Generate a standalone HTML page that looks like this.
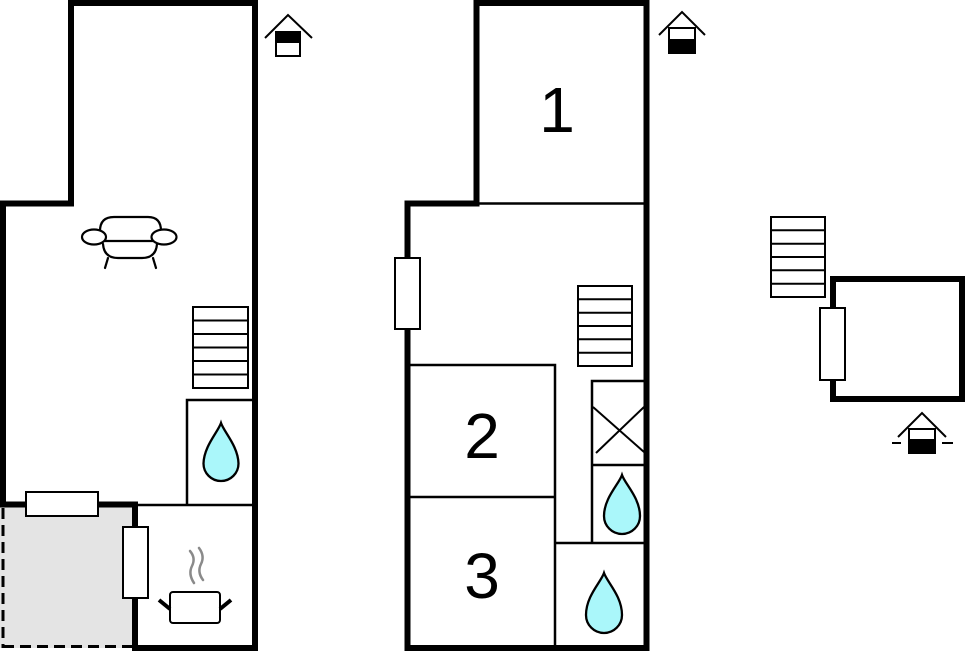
<!DOCTYPE html>
<html>
<head>
<meta charset="utf-8">
<style>
html,body{margin:0;padding:0;background:#fff;}
svg{display:block;}
</style>
</head>
<body>
<svg width="966" height="652" viewBox="0 0 966 652" xmlns="http://www.w3.org/2000/svg">
<rect x="0" y="0" width="966" height="652" fill="#fff"/>

<!-- ============ LEFT PLAN ============ -->
<!-- grey terrace -->
<rect x="0" y="507" width="133" height="141" fill="#e4e4e4"/>
<path d="M3,508 L3,648" stroke="#000" stroke-width="3" stroke-dasharray="11,6" fill="none"/>
<path d="M3,646.5 L133,646.5" stroke="#000" stroke-width="3" stroke-dasharray="11,6" fill="none"/>

<!-- thick walls -->
<path d="M3,507 L3,203.5 L71,203.5 L71,3 L255,3 L255,648 L135,648 L135,504.5 L0,504.5" stroke="#000" stroke-width="6" fill="none" stroke-linejoin="miter"/>

<!-- thin walls -->
<g stroke="#000" stroke-width="2.5" fill="none">
  <path d="M187,505 L187,400 L253,400"/>
  <path d="M137,505 L253,505"/>
</g>

<!-- windows -->
<rect x="26" y="492" width="72" height="24" fill="#fff" stroke="#000" stroke-width="2"/>
<rect x="123" y="527" width="25" height="71" fill="#fff" stroke="#000" stroke-width="2"/>

<!-- sofa -->
<g stroke="#000" stroke-width="2.2" fill="none" stroke-linecap="round">
  <path d="M100,231 Q100,217 114,217 L148,217 Q161,217 161,231"/>
  <path d="M105,241 L153,241"/>
  <path d="M103,244 Q104,258 118,258 L142,258 Q156,258 157,244"/>
  <ellipse cx="94" cy="237" rx="12" ry="7.5" fill="#fff"/>
  <ellipse cx="164" cy="237" rx="12.5" ry="7.5" fill="#fff"/>
  <path d="M108,258 L105,268"/>
  <path d="M153,258 L156,268"/>
</g>

<!-- stairs left -->
<g stroke="#000" stroke-width="2" fill="#fff">
  <rect x="193" y="307" width="55" height="81"/>
  <path d="M193,320.5 L248,320.5 M193,334 L248,334 M193,347.5 L248,347.5 M193,361 L248,361 M193,374.5 L248,374.5" fill="none"/>
</g>

<!-- drop left -->
<path d="M221,423 C224,432 238,446 238.5,463.5 A17.5,17.5 0 0 1 203.5,463.5 C204,446 218,432 221,423 Z" fill="#aaf7fa" stroke="#000" stroke-width="2.3"/>

<!-- pot -->
<g stroke="#000" stroke-width="2" fill="#fff">
  <rect x="170" y="592" width="50" height="31" rx="3"/>
</g>
<g stroke="#000" stroke-width="4" fill="none">
  <path d="M159,600 L170,609"/>
  <path d="M231,600 L220,609"/>
</g>
<g stroke="#8a8a8a" stroke-width="2.5" fill="none" stroke-linecap="round">
  <path d="M190,551 Q196,558 192,566 Q188,574 194,583"/>
  <path d="M199,548 Q205,556 201,564 Q197,572 203,580"/>
</g>

<!-- house icon left -->
<g stroke="#000" stroke-width="2" fill="none">
  <path d="M265,38 L288,15 L312,38"/>
  <rect x="276" y="32" width="24" height="24" fill="#fff"/>
</g>
<rect x="276" y="32" width="24" height="11" fill="#000"/>

<!-- ============ MIDDLE PLAN ============ -->
<path d="M407.5,648 L407.5,203.5 L476.5,203.5 L476.5,3 L646.5,3 L646.5,648 Z" stroke="#000" stroke-width="6" fill="none" stroke-linejoin="miter"/>

<g stroke="#000" stroke-width="2.5" fill="none">
  <path d="M476,203.5 L645,203.5"/>
  <path d="M409,365 L555,365 L555,646"/>
  <path d="M409,497 L555,497"/>
  <path d="M592,543 L592,381 L644,381"/>
  <path d="M592,465 L644,465"/>
  <path d="M555,543 L644,543"/>
</g>
<g stroke="#000" stroke-width="2" fill="none">
  <path d="M593,407 L644,452"/>
  <path d="M596,453 L644,407"/>
</g>

<!-- window middle -->
<rect x="395" y="258" width="25" height="71" fill="#fff" stroke="#000" stroke-width="2"/>

<!-- stairs middle -->
<g stroke="#000" stroke-width="2" fill="#fff">
  <rect x="578" y="286" width="54" height="80"/>
  <path d="M578,299.3 L632,299.3 M578,312.7 L632,312.7 M578,326 L632,326 M578,339.3 L632,339.3 M578,352.7 L632,352.7" fill="none"/>
</g>

<!-- drops middle -->
<path d="M622,475 C625,484 640,498 640,516 A18,18 0 0 1 604,516 C604,498 619,484 622,475 Z" fill="#aaf7fa" stroke="#000" stroke-width="2.3"/>
<path d="M604,573 C607,582 622,596 622,615 A18,18 0 0 1 586,615 C586,596 601,582 604,573 Z" fill="#aaf7fa" stroke="#000" stroke-width="2.3"/>

<!-- numbers -->
<g font-family="'Liberation Sans', sans-serif" font-size="64" fill="#000" text-anchor="middle">
  <text x="557" y="132">1</text>
  <text x="482" y="458">2</text>
  <text x="482" y="598">3</text>
</g>

<!-- house icon middle -->
<g stroke="#000" stroke-width="2" fill="none">
  <path d="M659,35 L682,12 L705,35"/>
  <rect x="669" y="28" width="26" height="25" fill="#fff"/>
</g>
<rect x="669" y="39" width="26" height="14" fill="#000"/>

<!-- ============ RIGHT PLAN ============ -->
<g stroke="#000" stroke-width="2" fill="#fff">
  <rect x="771" y="217" width="54" height="80"/>
  <path d="M771,230.3 L825,230.3 M771,243.7 L825,243.7 M771,257 L825,257 M771,270.3 L825,270.3 M771,283.7 L825,283.7" fill="none"/>
</g>
<rect x="833" y="279" width="129" height="120" stroke="#000" stroke-width="6" fill="none"/>
<rect x="820" y="308" width="25" height="72" fill="#fff" stroke="#000" stroke-width="2"/>

<!-- house icon right -->
<g stroke="#000" stroke-width="2" fill="none">
  <path d="M898,437 L922,413 L946,437"/>
  <rect x="909" y="429" width="26" height="24" fill="#fff"/>
  <path d="M892,443 L901,443 M942,443 L953,443"/>
</g>
<rect x="909" y="439" width="26" height="14" fill="#000"/>
</svg>
</body>
</html>
